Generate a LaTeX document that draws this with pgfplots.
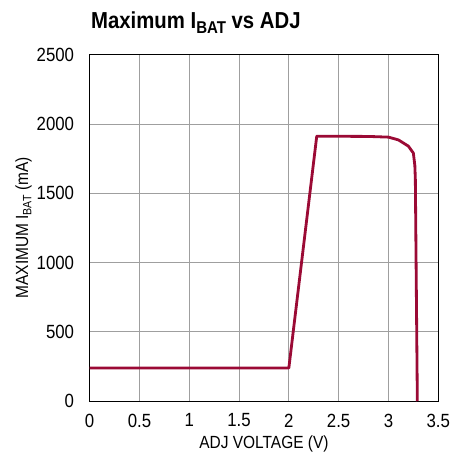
\documentclass[border=0pt]{standalone}
\usepackage{fontspec}
\setmainfont{Liberation Sans}[FakeStretch=0.88]
\usepackage{pgfplots}
\pgfplotsset{compat=1.18}
\definecolor{curve}{HTML}{9B0A35}
\begin{document}
\begin{tikzpicture}
\begin{axis}[
  scale only axis,
  width=347pt, height=345pt,
  xmin=0, xmax=3.5, ymin=0, ymax=2500,
  xtick={0,0.5,...,3.5},
  ytick={0,500,...,2500},
  xticklabels={0,0.5,1,1.5,2,2.5,3,3.5},
  yticklabels={0,500,1000,1500,2000,2500},
  grid=major,
  grid style={gray!75, line width=0.9pt},
  axis line style={black, line width=1.3pt},
  major tick length=0pt,
  ticklabel style={font=\fontsize{19}{22}\selectfont},
  xticklabel style={yshift=-9pt},
  yticklabel style={xshift=-12pt},
  label style={font=\fontsize{17.5}{20}\selectfont},
  xlabel={ADJ VOLTAGE (V)},
  ylabel={MAXIMUM I\raisebox{-0.35ex}{\fontsize{12}{14}\selectfont BAT} (mA)},
  xlabel style={yshift=-2pt},
  ylabel style={yshift=-2pt},
  title={\bfseries Maximum I\raisebox{-0.4ex}{\fontsize{17}{20}\selectfont BAT} vs ADJ},
  title style={at={(0,1)}, anchor=south west, font=\fontsize{23}{27}\selectfont\bfseries, yshift=12pt, xshift=-2pt},
]
\addplot[curve, line width=2.8pt, line join=round] coordinates {
  (0,240) (2.0,240) (2.28,1912) (2.8,1910) (3.0,1905) (3.1,1885) (3.2,1840) (3.25,1790) (3.265,1700) (3.27,1600) (3.29,0)
};
\end{axis}
\path (current bounding box.south west) ++(-12pt,-3pt);
\path (current bounding box.north east) ++(2pt,8pt);
\end{tikzpicture}
\end{document}
